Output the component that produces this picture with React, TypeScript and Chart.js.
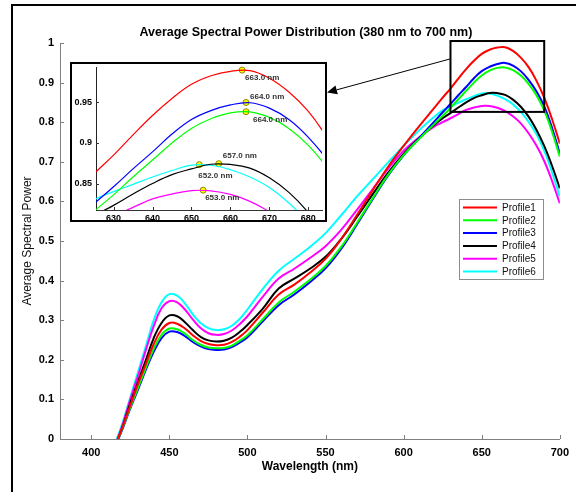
import React, { useEffect, useRef } from 'react';
import { Chart, registerables } from 'chart.js';

Chart.register(...registerables);

const FONT = '"Liberation Sans", Arial, Helvetica, sans-serif';

// ---------- data ----------
const wavelengths = [
  415, 420, 425, 430, 435, 440, 445, 450, 455, 460, 465, 470, 475, 480, 485, 490, 495, 500,
  510, 520, 530, 540, 550, 560, 570, 580, 590, 600, 610, 620,
  625, 630, 635, 640, 645, 650, 655, 660, 665, 670, 675, 680, 685, 690, 695, 700,
];

const profileLabels = ['Profile1', 'Profile2', 'Profile3', 'Profile4', 'Profile5', 'Profile6'];
const profileColors = ['#ff0000', '#00ff00', '#0000ff', '#000000', '#ff00ff', '#00ffff'];

const profile1 = [
  -0.02, 0.03, 0.085, 0.14, 0.19, 0.24, 0.276, 0.293, 0.291, 0.279, 0.262, 0.248, 0.24, 0.237, 0.238, 0.245, 0.258, 0.275,
  0.32, 0.365, 0.39, 0.42, 0.455, 0.505, 0.565, 0.627, 0.687, 0.74, 0.79, 0.838,
  0.862, 0.885, 0.91, 0.934, 0.955, 0.9725, 0.983, 0.9885, 0.9893, 0.98, 0.963, 0.939, 0.905, 0.862, 0.808, 0.746,
];
const profile2 = [
  -0.02, 0.028, 0.08, 0.13, 0.18, 0.228, 0.263, 0.279, 0.277, 0.266, 0.25, 0.238, 0.231, 0.229, 0.23, 0.236, 0.248, 0.262,
  0.303, 0.345, 0.372, 0.402, 0.437, 0.485, 0.545, 0.607, 0.667, 0.717, 0.758, 0.797,
  0.816, 0.836, 0.858, 0.879, 0.9, 0.918, 0.93, 0.9372, 0.9384, 0.9316, 0.918, 0.897, 0.868, 0.83, 0.776, 0.713,
];
const profile3 = [
  -0.022, 0.025, 0.077, 0.125, 0.175, 0.22, 0.255, 0.271, 0.27, 0.26, 0.245, 0.234, 0.227, 0.225, 0.226, 0.232, 0.243, 0.257,
  0.298, 0.338, 0.365, 0.396, 0.431, 0.48, 0.541, 0.604, 0.665, 0.716, 0.76, 0.803,
  0.825, 0.846, 0.868, 0.889, 0.911, 0.929, 0.94, 0.947, 0.9497, 0.943, 0.929, 0.907, 0.878, 0.84, 0.786, 0.721,
];
const profile4 = [
  -0.02, 0.03, 0.09, 0.145, 0.2, 0.255, 0.293, 0.312, 0.31, 0.295, 0.275, 0.258, 0.249, 0.246, 0.248, 0.256, 0.27, 0.288,
  0.33, 0.38, 0.405, 0.43, 0.46, 0.505, 0.56, 0.617, 0.672, 0.72, 0.76, 0.795,
  0.81, 0.823, 0.837, 0.85, 0.861, 0.868, 0.8738, 0.8735, 0.869, 0.857, 0.839, 0.814, 0.781, 0.74, 0.69, 0.633,
];
const profile5 = [
  -0.02, 0.035, 0.1, 0.16, 0.225, 0.285, 0.33, 0.348, 0.345, 0.327, 0.302, 0.28, 0.267, 0.263, 0.265, 0.274, 0.29, 0.31,
  0.36, 0.405, 0.43, 0.457, 0.487, 0.528, 0.578, 0.63, 0.682, 0.728, 0.762, 0.79,
  0.8, 0.81, 0.8205, 0.831, 0.837, 0.8412, 0.841, 0.8365, 0.828, 0.815, 0.797, 0.772, 0.741, 0.702, 0.652, 0.595,
];
const profile6 = [
  -0.015, 0.04, 0.105, 0.17, 0.235, 0.3, 0.345, 0.366, 0.362, 0.342, 0.315, 0.293, 0.28, 0.275, 0.277, 0.286, 0.303, 0.327,
  0.38, 0.425, 0.455, 0.485, 0.52, 0.565, 0.612, 0.655, 0.698, 0.74, 0.78, 0.815,
  0.83, 0.84, 0.849, 0.858, 0.866, 0.8728, 0.8725, 0.867, 0.858, 0.845, 0.826, 0.801, 0.77, 0.728, 0.674, 0.612,
];
const profiles = [profile1, profile2, profile3, profile4, profile5, profile6];

// peaks (profile order 1..6)
const peakWavelengths = [663, 664, 664, 657, 653, 652];
const peakValues = [0.99, 0.9386, 0.95, 0.8745, 0.8418, 0.8733];
const peakLabels = ['663.0 nm', '664.0 nm', '664.0 nm', '657.0 nm', '653.0 nm', '652.0 nm'];

// axis ranges / ticks
const mainXRange = [380, 700];
const mainXStep = 50;
const mainYRange = [0, 1];
const mainYStep = 0.1;
const insetXRange = [625.5, 683.5];
const insetXStep = 10;
const insetYRange = [0.8173, 0.9938];
const insetYStep = 0.05;

// zoom rectangle in main chart (data units)
const zoomBoxWavelengths = [630, 690];
const zoomBoxValues = [0.826, 1.005];
const arrowStartValue = 0.96;

// ---------- layout / style ----------
const INSET = { left: 70, top: 62, w: 257, h: 160 };
const LEGEND = { x: 459, y: 199, w: 84, h: 80, row0: 8.5, rowH: 12.8 };
// label offsets (px) relative to each peak marker
const peakLabelOffsets = [
  [3, 8], [7, 8], [4, -6], [4, -8], [2, 8], [-1, 11],
];

const fmtTick = (v: any) => String(parseFloat(Number(v).toFixed(2)));

const mainDecor = {
  id: 'mainDecor',
  beforeDraw(chart: any) {
    const ctx = chart.ctx;
    ctx.save();
    ctx.fillStyle = '#ffffff';
    ctx.fillRect(0, 0, chart.width, chart.height);
    ctx.restore();
  },
  afterDraw(chart: any) {
    const { ctx, chartArea: a } = chart;
    const xs = chart.scales.x;
    const ys = chart.scales.y;
    ctx.save();
    // inward ticks
    ctx.strokeStyle = '#808080';
    ctx.lineWidth = 1;
    ctx.beginPath();
    xs.ticks.forEach((t: any) => {
      const px = Math.round(xs.getPixelForValue(t.value)) + 0.5;
      ctx.moveTo(px, a.bottom);
      ctx.lineTo(px, a.bottom - 4);
    });
    ys.ticks.forEach((t: any) => {
      const py = Math.round(ys.getPixelForValue(t.value)) + 0.5;
      ctx.moveTo(a.left, py);
      ctx.lineTo(a.left + 4, py);
    });
    ctx.stroke();

    // title
    ctx.fillStyle = '#000';
    ctx.font = `bold 12.5px ${FONT}`;
    ctx.textAlign = 'center';
    ctx.textBaseline = 'middle';
    ctx.fillText('Average Spectral Power Distribution (380 nm to 700 nm)', (a.left + a.right) / 2 - 4, 33);

    // zoom box
    const bx0 = xs.getPixelForValue(zoomBoxWavelengths[0]);
    const bx1 = xs.getPixelForValue(zoomBoxWavelengths[1]);
    const by0 = ys.getPixelForValue(zoomBoxValues[1]);
    const by1 = ys.getPixelForValue(zoomBoxValues[0]);
    ctx.strokeStyle = '#000';
    ctx.lineWidth = 2;
    ctx.strokeRect(bx0, by0, bx1 - bx0, by1 - by0);

    // arrow
    const sx = bx0;
    const sy = ys.getPixelForValue(arrowStartValue);
    const tx = INSET.left + INSET.w;
    const ty = INSET.top + 30.5;
    const dx = tx - sx;
    const dy = ty - sy;
    const len = Math.hypot(dx, dy);
    const ux = dx / len;
    const uy = dy / len;
    const hl = 10;
    const hw = 4.5;
    ctx.lineWidth = 1;
    ctx.beginPath();
    ctx.moveTo(sx, sy);
    ctx.lineTo(tx - ux * hl, ty - uy * hl);
    ctx.stroke();
    ctx.fillStyle = '#000';
    ctx.beginPath();
    ctx.moveTo(tx, ty);
    ctx.lineTo(tx - ux * hl - uy * hw, ty - uy * hl + ux * hw);
    ctx.lineTo(tx - ux * hl + uy * hw, ty - uy * hl - ux * hw);
    ctx.closePath();
    ctx.fill();

    // legend
    ctx.fillStyle = '#fff';
    ctx.fillRect(LEGEND.x, LEGEND.y, LEGEND.w, LEGEND.h);
    ctx.strokeStyle = '#8c8c8c';
    ctx.lineWidth = 1;
    ctx.strokeRect(LEGEND.x + 0.5, LEGEND.y + 0.5, LEGEND.w, LEGEND.h);
    ctx.font = `10px ${FONT}`;
    ctx.textAlign = 'left';
    ctx.textBaseline = 'middle';
    chart.data.datasets.forEach((ds: any, i: number) => {
      const ry = LEGEND.y + LEGEND.row0 + i * LEGEND.rowH;
      ctx.strokeStyle = ds.borderColor;
      ctx.lineWidth = 2;
      ctx.beginPath();
      ctx.moveTo(LEGEND.x + 4, ry);
      ctx.lineTo(LEGEND.x + 38, ry);
      ctx.stroke();
      ctx.fillStyle = '#111';
      ctx.fillText(ds.label, LEGEND.x + 43, ry + 0.5);
    });

    // outer frame
    ctx.strokeStyle = '#000';
    ctx.lineWidth = 2;
    ctx.beginPath();
    ctx.moveTo(12, chart.height + 2);
    ctx.lineTo(12, 5);
    ctx.lineTo(chart.width + 2, 5);
    ctx.stroke();
    ctx.restore();
  },
};

const insetDecor = {
  id: 'insetDecor',
  beforeDraw(chart: any) {
    const ctx = chart.ctx;
    ctx.save();
    ctx.fillStyle = '#ffffff';
    ctx.fillRect(0, 0, chart.width, chart.height);
    ctx.restore();
  },
  afterDraw(chart: any) {
    const { ctx, chartArea: a } = chart;
    const xs = chart.scales.x;
    const ys = chart.scales.y;
    ctx.save();
    ctx.strokeStyle = '#333';
    ctx.lineWidth = 1;
    ctx.beginPath();
    xs.ticks.forEach((t: any) => {
      const px = Math.round(xs.getPixelForValue(t.value)) + 0.5;
      ctx.moveTo(px, a.bottom);
      ctx.lineTo(px, a.bottom - 3);
    });
    ys.ticks.forEach((t: any) => {
      const py = Math.round(ys.getPixelForValue(t.value)) + 0.5;
      ctx.moveTo(a.left, py);
      ctx.lineTo(a.left + 3, py);
    });
    ctx.stroke();

    // peak labels
    const meta = chart.getDatasetMeta(profiles.length);
    ctx.font = `bold 8px ${FONT}`;
    ctx.fillStyle = '#333';
    ctx.textAlign = 'left';
    ctx.textBaseline = 'middle';
    meta.data.forEach((pt: any, i: number) => {
      const [ox, oy] = peakLabelOffsets[i];
      ctx.fillText(peakLabels[i], pt.x + ox, pt.y + oy);
    });

    // frame
    ctx.strokeStyle = '#000';
    ctx.lineWidth = 2;
    ctx.strokeRect(1, 1, chart.width - 2, chart.height - 2);
    ctx.restore();
  },
};

function lineDatasets(width: number) {
  return profiles.map((vals, i) => ({
    label: profileLabels[i],
    data: wavelengths.map((w, j) => ({ x: w, y: vals[j] })),
    borderColor: profileColors[i],
    backgroundColor: profileColors[i],
    borderWidth: width,
    pointRadius: 0,
    fill: false,
    tension: 0.4,
    clip: 0,
  }));
}

export default function App() {
  const mainRef = useRef<HTMLCanvasElement>(null);
  const insetRef = useRef<HTMLCanvasElement>(null);

  useEffect(() => {
    const main = new Chart(mainRef.current as HTMLCanvasElement, {
      type: 'line',
      data: { datasets: lineDatasets(2) as any },
      options: {
        animation: false,
        responsive: false,
        maintainAspectRatio: false,
        events: [],
        layout: { padding: { left: 0, right: 14, top: 43, bottom: 0 } },
        plugins: { legend: { display: false }, title: { display: false }, tooltip: { enabled: false } },
        scales: {
          x: {
            type: 'linear',
            min: mainXRange[0],
            max: mainXRange[1],
            ticks: {
              stepSize: mainXStep,
              includeBounds: false,
              autoSkip: false,
              maxRotation: 0,
              padding: 7,
              color: '#000',
              font: { family: FONT, size: 11, weight: 'bold' },
              callback: fmtTick,
            },
            grid: { display: false, drawTicks: false },
            border: { display: true, color: '#808080', width: 1 },
            title: {
              display: true,
              text: 'Wavelength (nm)',
              color: '#000',
              font: { family: FONT, size: 12, weight: 'bold' },
              padding: { top: 0, bottom: 18 },
            },
            afterFit: (s: any) => { s.height = 53; },
          },
          y: {
            type: 'linear',
            min: mainYRange[0],
            max: mainYRange[1],
            ticks: {
              stepSize: mainYStep,
              includeBounds: false,
              padding: 6,
              color: '#000',
              font: { family: FONT, size: 11, weight: 'bold' },
              callback: fmtTick,
            },
            grid: { display: false, drawTicks: false },
            border: { display: true, color: '#808080', width: 1 },
            title: {
              display: true,
              text: 'Average Spectral Power',
              color: '#111',
              font: { family: FONT, size: 12, weight: 'normal' },
              padding: { top: 20, bottom: 0 },
            },
            afterFit: (s: any) => { s.width = 60; },
          },
        },
      } as any,
      plugins: [mainDecor],
    });

    const insetSets: any[] = lineDatasets(1.2);
    insetSets.push({
      label: 'peaks',
      data: peakWavelengths.map((w, i) => ({ x: w, y: peakValues[i] })),
      showLine: false,
      pointRadius: 3,
      pointBackgroundColor: '#ffff00',
      pointBorderColor: '#8a8a00',
      pointBorderWidth: 1,
      borderColor: '#ffff00',
      clip: false,
    });

    const inset = new Chart(insetRef.current as HTMLCanvasElement, {
      type: 'line',
      data: { datasets: insetSets },
      options: {
        animation: false,
        responsive: false,
        maintainAspectRatio: false,
        events: [],
        layout: { padding: { left: 0, right: 1, top: 1, bottom: 0 } },
        plugins: { legend: { display: false }, title: { display: false }, tooltip: { enabled: false } },
        scales: {
          x: {
            type: 'linear',
            min: insetXRange[0],
            max: insetXRange[1],
            ticks: {
              stepSize: insetXStep,
              includeBounds: false,
              autoSkip: false,
              maxRotation: 0,
              padding: 3,
              color: '#000',
              font: { family: FONT, size: 9, weight: 'bold' },
              callback: fmtTick,
            },
            grid: { display: false, drawTicks: false },
            border: { display: true, color: '#333', width: 1 },
            afterFit: (s: any) => { s.height = 12; s.paddingLeft = 0; s.paddingRight = 0; },
          },
          y: {
            type: 'linear',
            min: insetYRange[0],
            max: insetYRange[1],
            ticks: {
              stepSize: insetYStep,
              includeBounds: false,
              padding: 4,
              color: '#000',
              font: { family: FONT, size: 9, weight: 'bold' },
              callback: fmtTick,
            },
            grid: { display: false, drawTicks: false },
            border: { display: true, color: '#222', width: 1 },
            afterFit: (s: any) => { s.width = 26; s.paddingTop = 0; s.paddingBottom = 0; },
          },
        },
      } as any,
      plugins: [insetDecor],
    });

    return () => {
      main.destroy();
      inset.destroy();
    };
  }, []);

  return (
    <div style={{ position: 'absolute', left: 0, top: 0, width: 576, height: 492, background: '#fff', overflow: 'hidden' }}>
      <canvas
        ref={mainRef}
        width={576}
        height={492}
        style={{ position: 'absolute', left: 0, top: 0, width: 576, height: 492, display: 'block' }}
      />
      <canvas
        ref={insetRef}
        width={INSET.w}
        height={INSET.h}
        style={{ position: 'absolute', left: INSET.left, top: INSET.top, width: INSET.w, height: INSET.h, display: 'block' }}
      />
    </div>
  );
}
